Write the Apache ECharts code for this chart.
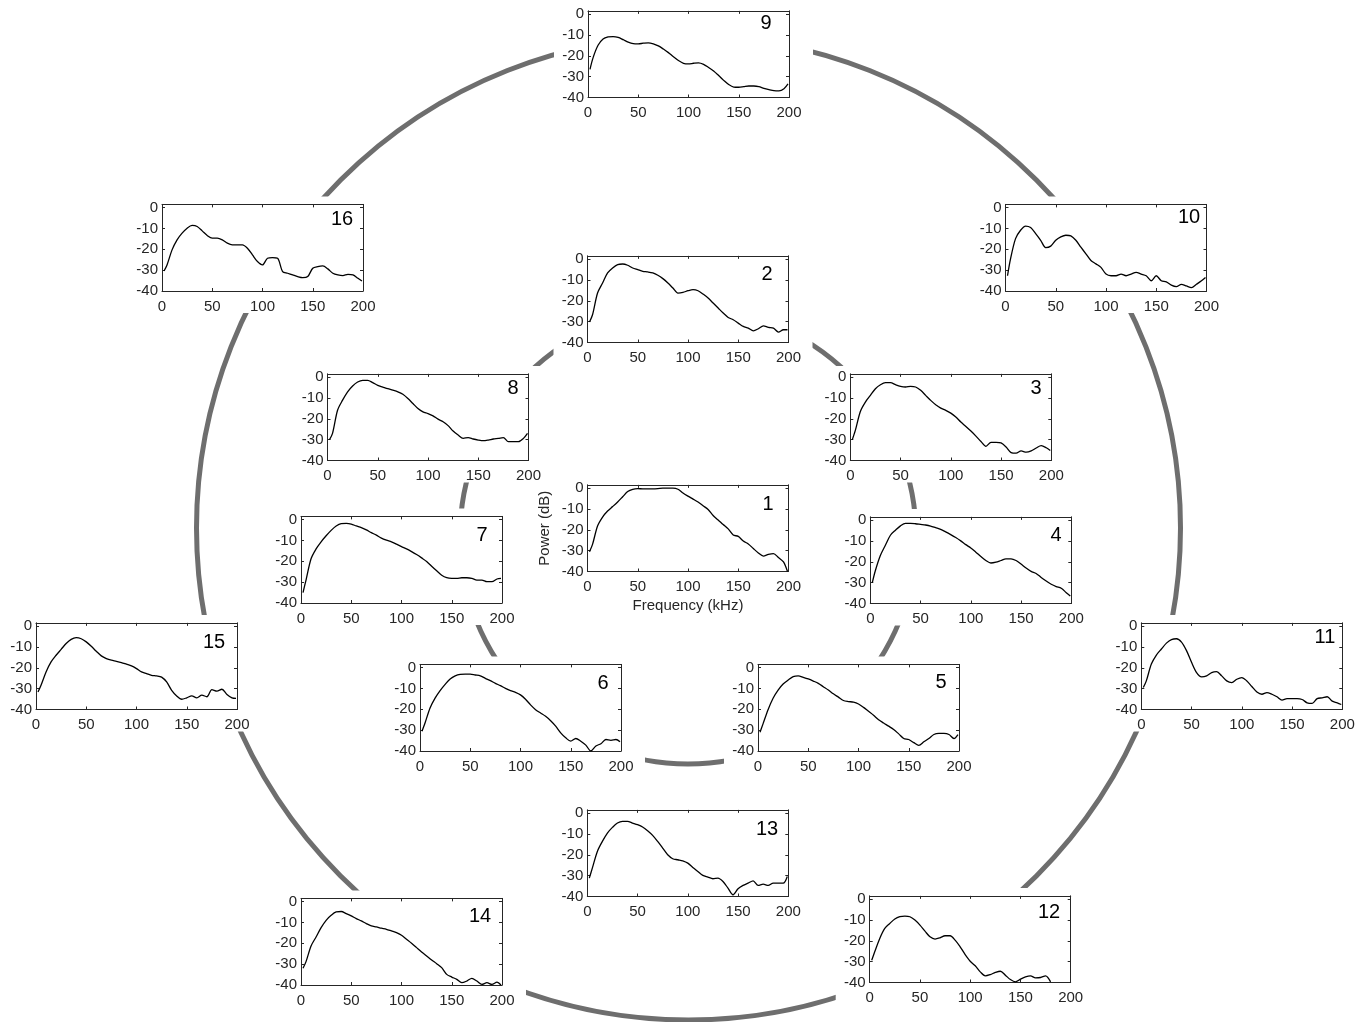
<!DOCTYPE html>
<html>
<head>
<meta charset="utf-8">
<script src="https://cdn.jsdelivr.net/npm/echarts@6/dist/echarts.min.js"></script>
<style>
  html, body { margin: 0; padding: 0; background: #fff; }
  #chart { width: 1369px; height: 1022px; }
</style>
</head>
<body>
<div id="chart"></div>
<script>
// Frequency samples (kHz) shared by every spectrum
const freqKHz = [2, 5, 10, 15, 20, 25, 30, 35, 40, 45, 50, 55, 60, 65, 70, 75, 80, 85, 90, 95,
  100, 105, 110, 115, 120, 125, 130, 135, 140, 145, 150, 155, 160, 165, 170, 175, 180, 185, 190, 195, 199];

// Power spectra (dB), one per recording position
const power1 = [-30.5, -27, -18.2, -13.9, -11, -8.9, -6.7, -4.2, -1.7, -0.6, -0.3, -0.4, -0.4, -0.4, -0.3, -0.1, -0.1, -0.1, -0.6, -2.4,
  -3.9, -5.3, -6.7, -8.5, -10.3, -13.2, -15.3, -17.5, -19.6, -22.5, -23.2, -25.4, -26.8, -29, -31.1, -32.6, -31.8, -31.4, -33.3, -35.4, -40];
const power2 = [-30.2, -26.7, -16.3, -11.5, -6.7, -4.3, -2.7, -2.4, -3, -4.3, -5.1, -5.9, -6.2, -6.7, -7.8, -9.4, -11.5, -13.9, -16.3, -16,
  -15.2, -14.7, -15.2, -16.8, -18.7, -21.1, -23.5, -25.9, -28, -29.1, -30.7, -32.3, -33.1, -34.4, -33.4, -32, -32.8, -33.1, -35, -33.9, -33.9];
const power3 = [-30, -25.6, -16.5, -12, -8.8, -5.6, -3.7, -2.7, -2.7, -3.7, -4.5, -4.8, -4.5, -4.8, -6.4, -8.8, -11.2, -13.3, -14.9, -16,
  -17.3, -19.2, -21.6, -23.7, -25.9, -28.3, -30.9, -33.2, -31.3, -31.3, -31.6, -33.5, -36.2, -36.5, -35.4, -36, -35.4, -34, -32.9, -33.9, -35.2];
const power4 = [-30, -24.3, -17, -12.1, -7.3, -4.9, -2.8, -1.6, -1.6, -1.8, -2.1, -2.4, -2.9, -3.7, -4.5, -5.7, -7, -8.4, -10, -11.8,
  -13.4, -15.4, -17.5, -19.4, -20.6, -20.2, -19.4, -18.6, -18.6, -19.4, -21.1, -23, -24.6, -25.6, -27.5, -29.2, -30.8, -31.9, -32.7, -34.8, -36.4];
const power5 = [-31, -27, -20.2, -14.7, -10.8, -7.9, -6, -4.4, -4, -4.7, -5.5, -6.5, -7.6, -9.2, -10.8, -12.6, -14.2, -15.8, -16.3, -16.6,
  -17.5, -19.1, -21, -22.9, -25, -26.6, -28.1, -29.7, -31.8, -34, -34.5, -36, -37.3, -35.6, -34, -32.1, -31.6, -31.6, -32.1, -34, -32.1];
const power6 = [-30.5, -26.6, -19.4, -14.7, -11.1, -8.1, -5.5, -4, -3.3, -3.2, -3.2, -3.6, -4, -5.2, -6.3, -7.6, -8.7, -10, -11.1, -11.9,
  -13.1, -15.2, -17.9, -20.2, -21.8, -23.4, -25.5, -28.1, -31.3, -33.7, -35.3, -34, -35.3, -37.2, -40, -37.6, -36.5, -34.5, -34.9, -34.5, -35.6];
const power7 = [-35, -29, -18.8, -14.1, -10.7, -7.8, -5.2, -3.1, -2, -1.9, -2.2, -3.1, -3.9, -5, -6.3, -7.5, -8.9, -9.9, -10.7, -11.8,
  -13, -14.1, -15.4, -16.8, -18.4, -20.1, -22.4, -24.6, -26.7, -27.9, -28.2, -28.2, -27.9, -27.9, -28.2, -29, -29, -29.8, -29.8, -28.5, -28.2];
const power8 = [-30, -27, -15.9, -11.1, -7.1, -4.3, -2.4, -1.6, -1.6, -2.7, -4, -4.8, -5.6, -6.3, -7.1, -8.3, -10.3, -12.7, -15.1, -16.7,
  -17.5, -18.6, -20.2, -21.4, -23.3, -25.9, -27.8, -29.4, -29, -29.7, -30.2, -30.5, -30.2, -29.7, -29.4, -29, -31, -31, -31, -29.4, -27];
const power9 = [-26.5, -21, -15, -12, -11, -10.8, -11.2, -12.3, -13.5, -14.2, -14.3, -14, -13.8, -14.3, -15.3, -16.8, -18.5, -20.5, -22.3, -23.6,
  -23.9, -23.6, -23.4, -24.1, -25.6, -27.3, -29.5, -31.8, -33.8, -35, -35.1, -34.8, -34.5, -34.5, -34.8, -35.6, -36.2, -36.7, -36.8, -35.8, -33.5];
const power10 = [-32.7, -24.6, -14.9, -10.9, -8.9, -9.6, -12.5, -15.7, -19.2, -18.5, -15.7, -14.1, -13.3, -13.6, -15.7, -19, -22.2, -25.4, -27, -28.7,
  -31.9, -32.7, -32.7, -31.9, -32.7, -31.9, -31.1, -31.9, -32.7, -35.1, -32.7, -35.1, -35.6, -37.2, -37.9, -36.8, -37.6, -38.4, -36.8, -35.1, -33.5];
const power11 = [-29.5, -26.3, -18.2, -13.9, -11, -8.2, -6.5, -6.1, -7.7, -11.8, -17.4, -22.3, -24.4, -23.9, -22.3, -21.9, -23.9, -26.3, -27.1, -25.5,
  -24.7, -26.3, -29, -31.6, -32.7, -31.9, -32.7, -33.9, -35.5, -34.8, -34.8, -34.8, -35.2, -36.8, -37.1, -34.8, -34.4, -33.9, -36, -36.8, -37.6];
const power12 = [-29.3, -25.3, -18.9, -14.1, -11.7, -9.6, -8.5, -8.2, -8.5, -10.1, -12.5, -15.4, -18.1, -19.2, -18.6, -17.6, -17.6, -19.7, -22.9, -26.6,
  -29.8, -32, -34.9, -36.8, -36.2, -35.2, -34.6, -36.5, -38.6, -39.7, -38.4, -37.3, -36.8, -37.8, -37.6, -36.8, -39.7];
const power13 = [-31.2, -26.4, -18.4, -13.6, -9.6, -6.9, -4.8, -4, -4, -4.8, -5.6, -6.7, -8.5, -10.7, -13.6, -16.8, -20, -21.9, -22.4, -22.9,
  -24, -26.1, -28, -29.9, -30.7, -31.5, -31.2, -32.8, -36, -39.2, -36.3, -34.7, -33.6, -32.5, -34.7, -34.1, -34.7, -33.6, -33.6, -33.6, -30.4];
const power14 = [-32, -28.8, -21.3, -17, -12.5, -9, -6.6, -5, -4.8, -5.8, -6.9, -8.2, -9.3, -10.6, -11.7, -12.2, -12.8, -13.3, -14.1, -14.9,
  -16.2, -18.1, -20, -22.1, -24.2, -26.1, -28, -29.8, -31.7, -34.9, -36.2, -37.3, -38.9, -38.1, -36.8, -38.1, -39.7, -38.9, -39.7, -38.6, -40];
const power15 = [-31.6, -28.4, -22, -17.2, -14, -11.2, -8.4, -6.4, -5.6, -6.1, -7.6, -9.7, -12.1, -14.3, -15.6, -16.4, -16.9, -17.5, -18.3, -19.1,
  -20.4, -22, -22.8, -23.6, -23.9, -24.5, -26.8, -30.8, -33.5, -35.1, -34.4, -33.5, -34.4, -33.1, -33.9, -30.5, -31.2, -30.3, -32.8, -34.4, -34.7];
const power16 = [-30.4, -27.5, -20.3, -15.5, -12.3, -9.9, -8.6, -9.1, -11.2, -13.4, -14.7, -14.7, -15.5, -17.1, -17.9, -17.9, -17.9, -19.5, -22.7, -25.9,
  -27.5, -24.3, -24, -24.3, -30.7, -31.5, -32.3, -33.1, -33.6, -33.1, -29.1, -28.3, -28, -29.4, -31.5, -32.3, -32.6, -32, -32.3, -33.9, -35.2];

// Axis tick labels
const freqTicks = [0, 50, 100, 150, 200];
const powerTicks = [-40, -30, -20, -10, 0];

const spectra = {
  1: power1, 2: power2, 3: power3, 4: power4, 5: power5, 6: power6, 7: power7, 8: power8,
  9: power9, 10: power10, 11: power11, 12: power12, 13: power13, 14: power14, 15: power15, 16: power16
};

// Placement of each small panel: plot-box left edge, pixel row of the 0 dB line, number label centre
const panels = [
  { n: 9,  left: 588,   zero: 14,    lx: 766,  ly: 23.5 },
  { n: 16, left: 162,   zero: 207.5, lx: 342,  ly: 219 },
  { n: 10, left: 1005.5, zero: 207.5, lx: 1189, ly: 217.5 },
  { n: 2,  left: 587.5, zero: 259,   lx: 767,  ly: 274 },
  { n: 8,  left: 327.5, zero: 377,   lx: 513,  ly: 388 },
  { n: 3,  left: 850.3, zero: 377,   lx: 1036, ly: 388 },
  { n: 1,  left: 587.5, zero: 488,   lx: 768,  ly: 504 },
  { n: 7,  left: 301,   zero: 519.5, lx: 482,  ly: 535 },
  { n: 4,  left: 870.3, zero: 520,   lx: 1056, ly: 535.5 },
  { n: 15, left: 36,    zero: 626,   lx: 214,  ly: 642.5 },
  { n: 11, left: 1141.3, zero: 626,  lx: 1325, ly: 637 },
  { n: 6,  left: 420,   zero: 667.5, lx: 603,  ly: 683 },
  { n: 5,  left: 758,   zero: 667.5, lx: 941,  ly: 682 },
  { n: 13, left: 587.3, zero: 813,   lx: 767,  ly: 829.5 },
  { n: 14, left: 301,   zero: 901.5, lx: 480,  ly: 916.5 },
  { n: 12, left: 869.7, zero: 899,   lx: 1049, ly: 912 }
];

const Y_MIN = -40, Y_MAX = 1.5;
const BOX_W = 201;
const PX_40DB = 83.5;
const pxPerDb = PX_40DB / 40;
const BOX_H = (Y_MAX - Y_MIN) * pxPerDb;

const AXIS_COLOR = '#262626';
const FONT = '"Liberation Sans", Arial, Helvetica, sans-serif';
const RING_COLOR = '#6e6e6e';

const grids = [], xAxes = [], yAxes = [], series = [], graphics = [];

// Two grey rings linking the panels; white pads behind each panel open the gaps
graphics.push({
  type: 'circle', z: -3, silent: true,
  shape: { cx: 688.5, cy: 528, r: 492 },
  style: { fill: null, stroke: RING_COLOR, lineWidth: 5 }
});
graphics.push({
  type: 'circle', z: -3, silent: true,
  shape: { cx: 688, cy: 536, r: 228 },
  style: { fill: null, stroke: RING_COLOR, lineWidth: 5 }
});

panels.forEach((p, i) => {
  const top = p.zero - Y_MAX * pxPerDb;
  grids.push({ left: p.left, top: top, width: BOX_W, height: BOX_H, containLabel: false });

  graphics.push({
    type: 'rect', z: -2, silent: true,
    shape: { x: p.left - 34, y: p.zero - 11, width: BOX_W + 58, height: PX_40DB + 33 },
    style: { fill: '#ffffff' }
  });

  const isMain = p.n === 1;
  const tickStyle = { inside: true, length: 3, lineStyle: { color: AXIS_COLOR, width: 1 } };
  const lineStyle = { show: true, onZero: false, lineStyle: { color: AXIS_COLOR, width: 1 } };

  xAxes.push({
    type: 'value', gridIndex: i, position: 'bottom', min: 0, max: 200,
    axisLine: lineStyle,
    axisTick: Object.assign({ customValues: freqTicks }, tickStyle),
    axisLabel: { customValues: freqTicks, margin: 8, fontSize: 15, color: AXIS_COLOR, fontFamily: FONT },
    splitLine: { show: false },
    name: isMain ? 'Frequency (kHz)' : '',
    nameLocation: 'middle', nameGap: 27,
    nameTextStyle: { fontSize: 15, color: AXIS_COLOR, fontFamily: FONT }
  });
  xAxes.push({
    type: 'value', gridIndex: i, position: 'top', min: 0, max: 200,
    axisLine: lineStyle,
    axisTick: Object.assign({ customValues: freqTicks }, tickStyle),
    axisLabel: { show: false },
    splitLine: { show: false }
  });
  yAxes.push({
    type: 'value', gridIndex: i, position: 'left', min: Y_MIN, max: Y_MAX,
    axisLine: lineStyle,
    axisTick: Object.assign({ customValues: powerTicks }, tickStyle),
    axisLabel: { customValues: powerTicks, margin: 4, fontSize: 15, color: AXIS_COLOR, fontFamily: FONT },
    splitLine: { show: false },
    name: isMain ? 'Power (dB)' : '',
    nameLocation: 'middle', nameGap: 35, nameRotate: 90,
    nameTextStyle: { fontSize: 15, color: AXIS_COLOR, fontFamily: FONT }
  });
  yAxes.push({
    type: 'value', gridIndex: i, position: 'right', min: Y_MIN, max: Y_MAX,
    axisLine: lineStyle,
    axisTick: Object.assign({ customValues: powerTicks }, tickStyle),
    axisLabel: { show: false },
    splitLine: { show: false }
  });

  const values = spectra[p.n];
  series.push({
    name: 'Position ' + p.n,
    type: 'line',
    xAxisIndex: 2 * i, yAxisIndex: 2 * i,
    data: values.map((v, k) => [freqKHz[k], v]),
    showSymbol: false,
    smooth: 0.3,
    lineStyle: { color: '#000', width: 1.3 },
    z: 3
  });

  graphics.push({
    type: 'text', z: 10, silent: true,
    style: {
      text: String(p.n), x: p.lx, y: p.ly,
      textAlign: 'center', verticalAlign: 'middle', textVerticalAlign: 'middle',
      fontSize: 20, fontFamily: FONT, fill: '#000'
    }
  });
});

const chart = echarts.init(document.getElementById('chart'), null, { renderer: 'canvas' });
chart.setOption({
  backgroundColor: '#ffffff',
  animation: false,
  grid: grids,
  xAxis: xAxes,
  yAxis: yAxes,
  series: series,
  graphic: { elements: graphics }
});
</script>
</body>
</html>
